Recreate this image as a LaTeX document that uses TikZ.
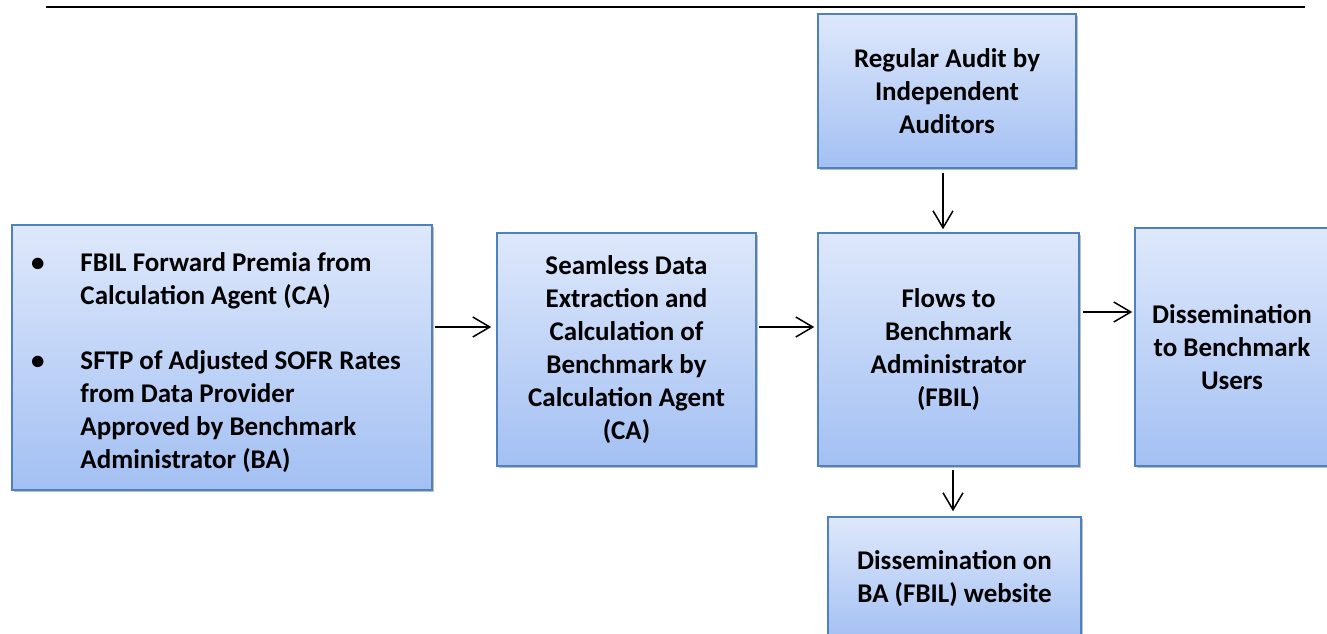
\documentclass[tikz,border=0pt]{standalone}
\usepackage{fontspec}
\setmainfont{Carlito}
\usetikzlibrary{arrows.meta,shadows}
\definecolor{boxtop}{HTML}{DEE8FB}
\definecolor{boxbot}{HTML}{A3C0F3}
\definecolor{boxline}{HTML}{4F81BD}
\begin{document}
\begin{tikzpicture}[x=1pt,y=-1pt,
	box/.style={rectangle,draw=boxline,line width=1.5pt,top color=boxtop,bottom color=boxbot,
		drop shadow={shadow xshift=1.5pt,shadow yshift=-2pt,fill=black,opacity=0.25},
		align=center,inner sep=0pt,font=\bfseries\fontsize{27}{33}\selectfont},
	arr/.style={line width=1.5pt,-{Straight Barb[length=17pt,width=20pt,line width=1.5pt]}}]
	\useasboundingbox (0,0) rectangle (1327,634);
	\draw[line width=2.5pt] (46,7) -- (1305,7);
	\node[box,minimum width=420,minimum height=265] (src) at (222,357.5) {%
		\begin{tabular}{@{}l@{\hspace{36pt}}l@{}}
		\rule{0pt}{35pt}\textbullet & FBIL Forward Premia from\\
		 & Calculation Agent (CA)\\[32pt]
		\textbullet & SFTP of Adjusted SOFR Rates\\
		 & from Data Provider\\
		 & Approved by Benchmark\\
		 & Administrator (BA)\\
		\end{tabular}\hspace{12pt}};
	\node[box,minimum width=259,minimum height=233] (calc) at (626.5,349.5)
		{Seamless Data\\Extraction and\\Calculation of\\Benchmark by\\Calculation Agent\\(CA)};
	\node[box,minimum width=261,minimum height=233] (flow) at (948.5,349.5)
		{Flows to\\Benchmark\\Administrator\\(FBIL)};
	\node[box,minimum width=258,minimum height=154] (audit) at (947,91)
		{Regular Audit by\\Independent\\Auditors};
	\node[box,minimum width=194,minimum height=238] (users) at (1232,347)
		{Dissemination\\to Benchmark\\Users};
	\node[box,minimum width=253,minimum height=124] (web) at (954.5,579)
		{Dissemination on\\BA (FBIL) website};
	\coordinate (a1) at ([yshift=30.5pt]src.east);
	\coordinate (a2) at ([yshift=22.5pt]calc.east);
	\coordinate (a3) at ([xshift=-4pt]audit.south);
	\coordinate (a4) at ([yshift=37.5pt]flow.east);
	\coordinate (a5) at ([xshift=4.5pt]flow.south);
	\draw[arr,shorten <=2pt,shorten >=5pt] (a1) -- (a1 -| calc.west);
	\draw[arr,shorten <=2pt,shorten >=3pt] (a2) -- (a2 -| flow.west);
	\draw[arr,shorten <=4pt,shorten >=3pt] (a3) -- (a3 |- flow.north);
	\draw[arr,shorten <=3pt,shorten >=2pt] (a4) -- (a4 -| users.west);
	\draw[arr,shorten <=3pt,shorten >=5pt] (a5) -- (a5 |- web.north);
\end{tikzpicture}
\end{document}
